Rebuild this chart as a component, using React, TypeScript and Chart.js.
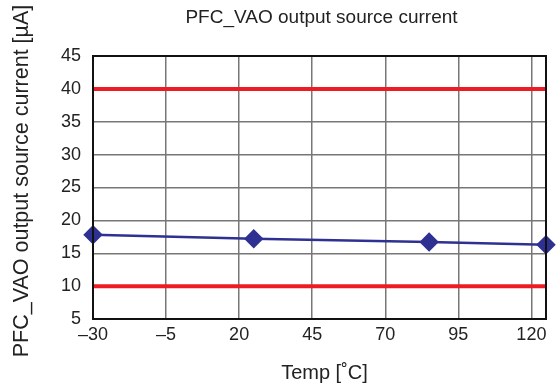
import React, { useEffect, useRef } from "react";
import { Chart, registerables } from "chart.js";

Chart.register(...registerables);

const temps = [-30, 25, 85, 125];
const currents = [17.8, 17.2, 16.7, 16.3];
const limitX = [-30, 125];
const upperLimit = [40, 40];
const lowerLimit = [10, 10];
const xTicks = [-30, -5, 20, 45, 70, 95, 120];
const yTicks = [5, 10, 15, 20, 25, 30, 35, 40, 45];

const FONT = "'Liberation Sans', Arial, Helvetica, sans-serif";

const framePlugin = {
  id: "frame",
  afterDatasetsDraw(chart: any) {
    const { ctx, chartArea } = chart;
    ctx.save();
    ctx.strokeStyle = "#111";
    ctx.lineWidth = 2;
    ctx.strokeRect(chartArea.left, chartArea.top, chartArea.right - chartArea.left, chartArea.bottom - chartArea.top);
    ctx.restore();
  },
  afterDraw(chart: any) {
    const { ctx, chartArea } = chart;
    const cx = (chartArea.left + chartArea.right) / 2;
    ctx.save();
    ctx.fillStyle = "#222";
    ctx.textAlign = "center";
    ctx.textBaseline = "middle";
    ctx.font = `19px ${FONT}`;
    ctx.fillText("PFC_VAO output source current", cx + 2, 18);
    ctx.font = `20px ${FONT}`;
    ctx.fillText("Temp [˚C]", cx + 5, 373);
    ctx.translate(22, 181);
    ctx.rotate(-Math.PI / 2);
    ctx.font = `21.5px ${FONT}`;
    ctx.fillText("PFC_VAO output source current [µA]", 0, 0);
    ctx.restore();
  },
};

export default function App() {
  const ref = useRef<HTMLCanvasElement>(null);
  useEffect(() => {
    const chart = new Chart(ref.current!, {
      type: "scatter",
      data: {
        datasets: [
          {
            data: limitX.map((x, i) => ({ x, y: upperLimit[i] })),
            borderColor: "#ed1c24",
            borderWidth: 4,
            showLine: true,
            pointRadius: 0,
          },
          {
            data: limitX.map((x, i) => ({ x, y: lowerLimit[i] })),
            borderColor: "#ed1c24",
            borderWidth: 4,
            showLine: true,
            pointRadius: 0,
          },
          {
            data: temps.map((x, i) => ({ x, y: currents[i] })),
            borderColor: "#2e3192",
            backgroundColor: "#2e3192",
            borderWidth: 2.5,
            showLine: true,
            pointStyle: "rectRot",
            pointRadius: 8,
            clip: false as any,
          },
        ],
      },
      options: {
        animation: false,
        responsive: false,
        layout: { padding: { top: 56, right: 14, left: 0, bottom: 0 } },
        plugins: { legend: { display: false }, tooltip: { enabled: false }, title: { display: false } },
        scales: {
          x: {
            type: "linear",
            min: -30,
            max: 125,
            afterBuildTicks: (s: any) => {
              s.ticks = xTicks.map((v) => ({ value: v }));
            },
            afterFit: (s: any) => {
              s.height = 70;
            },
            grid: { color: "#777", lineWidth: 1.5, drawTicks: false },
            border: { color: "#111", width: 2 },
            ticks: {
              color: "#222",
              font: { family: FONT, size: 18 },
              padding: 5,
              maxRotation: 0,
              autoSkip: false,
              callback: (v: any) => (Number(v) < 0 ? "\u2013" + Math.abs(Number(v)) : String(v)),
            },
            title: { display: false },
          },
          y: {
            type: "linear",
            min: 5,
            max: 45,
            afterBuildTicks: (s: any) => {
              s.ticks = yTicks.map((v) => ({ value: v }));
            },
            afterFit: (s: any) => {
              s.width = 93;
            },
            grid: { color: "#777", lineWidth: 1.5, drawTicks: false },
            border: { color: "#111", width: 2 },
            ticks: {
              color: "#222",
              font: { family: FONT, size: 18 },
              padding: 12,
              autoSkip: false,
            },
            title: { display: false },
          },
        },
      },
      plugins: [framePlugin],
    } as any);
    return () => chart.destroy();
  }, []);
  return (
    <div style={{ position: "fixed", left: 0, top: 0, width: 560, height: 389, background: "#fff" }}>
      <canvas ref={ref} width={560} height={389} />
    </div>
  );
}
